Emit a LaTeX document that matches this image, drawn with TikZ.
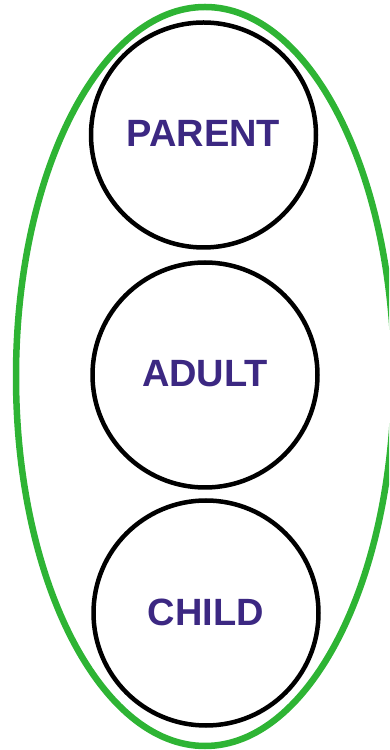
\documentclass[tikz,border=0pt]{standalone}
\usepackage{fontspec}
\setmainfont{Liberation Sans}
\definecolor{egogreen}{RGB}{46,180,52}
\definecolor{egopurple}{RGB}{60,40,130}
\begin{document}
\begin{tikzpicture}[x=1pt,y=1pt,
  state/.style={circle,draw=black,line width=4.5pt,minimum size=225pt,inner sep=0pt},
  label/.style={text=egopurple,font=\fontsize{38}{42}\selectfont\bfseries,inner sep=0pt}]
\useasboundingbox (0,0) rectangle (389,750);
\begin{scope}
\clip (0,0) rectangle (389,750);
\draw[egogreen,line width=6.5pt] (205,373.5) ellipse [x radius=189,y radius=369.5];
\end{scope}
\node[state] (parent) at (203.5,615) {};
\node[state] (adult) at (205,375) {};
\node[state] (child) at (206,137) {};
\node[label] at ([yshift=2pt]parent.center) {PARENT};
\node[label] at ([yshift=1pt]adult.center) {ADULT};
\node[label] at ([yshift=1pt]child.center) {CHILD};
\end{tikzpicture}
\end{document}
